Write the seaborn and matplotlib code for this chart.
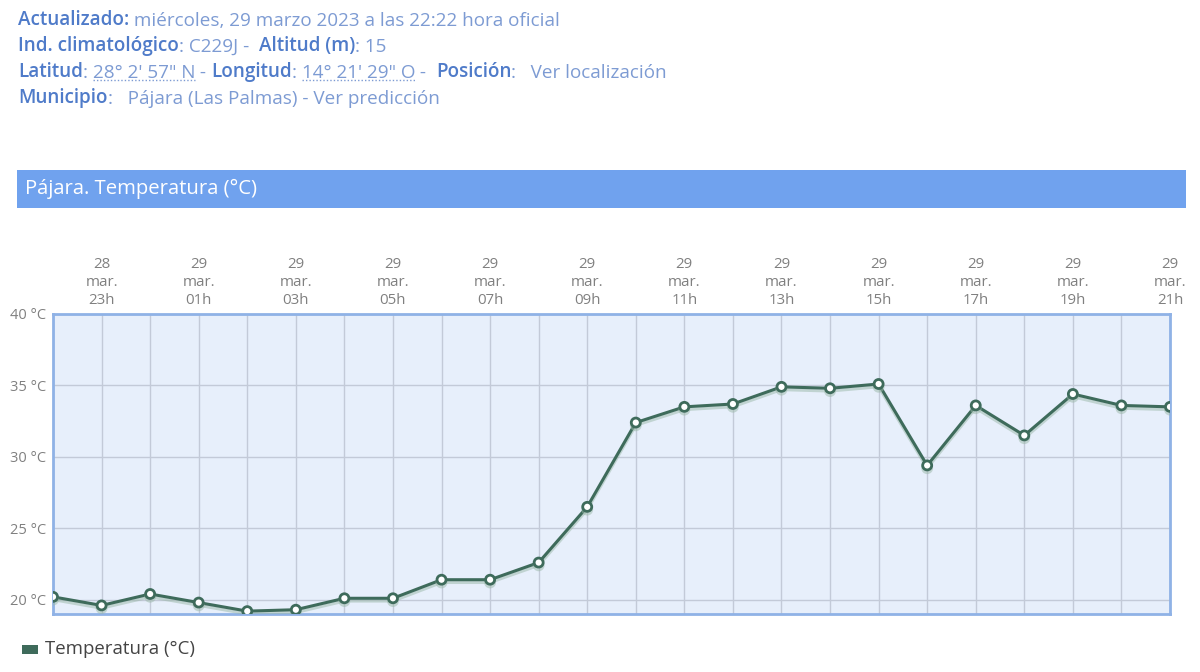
import matplotlib
matplotlib.use("Agg")
import matplotlib.pyplot as plt
import matplotlib.patheffects as pe
from matplotlib.patches import Rectangle
from matplotlib.lines import Line2D
from matplotlib.text import Annotation
import seaborn as sns
import pandas as pd
import numpy as np

# ---- data ----
hours = ["22h", "23h", "00h", "01h", "02h", "03h", "04h", "05h", "06h", "07h", "08h", "09h",
         "10h", "11h", "12h", "13h", "14h", "15h", "16h", "17h", "18h", "19h", "20h", "21h"]
days = ["28", "28", "29", "29", "29", "29", "29", "29", "29", "29", "29", "29",
        "29", "29", "29", "29", "29", "29", "29", "29", "29", "29", "29", "29"]
temps = [20.2, 19.6, 20.4, 19.8, 19.2, 19.3, 20.1, 20.1, 21.4, 21.4, 22.6, 26.5,
         32.4, 33.5, 33.7, 34.9, 34.8, 35.1, 29.4, 33.6, 31.5, 34.4, 33.6, 33.5]
y_ticks = [20, 25, 30, 35, 40]
series_name = "Temperatura (°C)"

df = pd.DataFrame({"idx": np.arange(len(temps)), "temp": temps})

sns.set_theme(style="white")
plt.rcParams["font.family"] = ["Open Sans", "DejaVu Sans"]

W, H = 1200, 672
fig = plt.figure(figsize=(W / 100, H / 100), dpi=100)

def fx(px):
    return px / W

def fy(py):
    return 1 - py / H

LABEL_C = "#4f7bc9"
VALUE_C = "#7d9bd3"
HFS = 13.6

# ---- header lines ----
def write_line(y_px, parts, x_px=18):
    prev = None
    objs = []
    for txt, bold, color in parts:
        w = "semibold" if bold else "normal"
        if prev is None:
            t = fig.text(fx(x_px), fy(y_px), txt, fontsize=HFS, color=color,
                         fontweight=w, va="baseline", ha="left")
        else:
            t = Annotation(txt, xy=(1, 0), xycoords=prev, xytext=(0, 0),
                           textcoords="offset points", fontsize=HFS, color=color,
                           fontweight=w, va="bottom", ha="left", annotation_clip=False)
            fig.add_artist(t)
        prev = t
        objs.append(t)
    return objs

write_line(25, [("Actualizado:", True, LABEL_C),
                (" miércoles, 29 marzo 2023 a las 22:22 hora oficial", False, VALUE_C)])
write_line(51, [("Ind. climatológico", True, LABEL_C), (": C229J -  ", False, VALUE_C),
                ("Altitud (m)", True, LABEL_C), (": 15", False, VALUE_C)])
l3 = write_line(77, [("Latitud", True, LABEL_C), (": ", False, VALUE_C),
                     ("28° 2' 57\" N", False, VALUE_C), (" - ", False, VALUE_C),
                     ("Longitud", True, LABEL_C), (": ", False, VALUE_C),
                     ("14° 21' 29\" O", False, VALUE_C), (" -  ", False, VALUE_C),
                     ("Posición", True, LABEL_C), (":   Ver localización", False, VALUE_C)])
write_line(103, [("Municipio", True, LABEL_C), (":   Pájara (Las Palmas) - Ver predicción", False, VALUE_C)])

# ---- title bar ----
fig.patches.append(Rectangle((fx(17), fy(208)), fx(1186 - 17), (208 - 170) / H,
                             transform=fig.transFigure, facecolor="#70a2ee", edgecolor="none", zorder=0))
fig.text(fx(25), fy(189), "Pájara. Temperatura (°C)", color="white", fontsize=14.6,
         va="center", ha="left")

# ---- chart ----
left, right, top, bottom = 53, 1170, 314, 614
ax = fig.add_axes([fx(left), fy(bottom), fx(right - left), (bottom - top) / H])
ax.set_facecolor("#e7effb")

line_c = "#3e6b5b"
sns.lineplot(data=df, x="idx", y="temp", ax=ax, color=line_c, linewidth=2.2,
             marker="o", markersize=6.5, markerfacecolor="white", markeredgecolor=line_c,
             markeredgewidth=2, legend=False, zorder=5,
             path_effects=[pe.SimpleLineShadow(offset=(0, -2), shadow_color="#9ab8a8", alpha=0.5),
                           pe.Normal()])

ax.set_xlim(0, len(temps) - 1)
ax.set_ylim(19.0, 40)
ax.set_xticks(np.arange(len(temps)))
xlabels = []
for i, (d, h) in enumerate(zip(days, hours)):
    xlabels.append(f"{d}\nmar.\n{h}" if i % 2 == 1 else "")
ax.set_xticklabels(xlabels, fontsize=10.8, color="#808080", linespacing=1.3)
ax.xaxis.tick_top()
ax.tick_params(axis="x", length=0, pad=4)
ax.set_yticks(y_ticks)
ax.set_yticklabels([f"{v} °C" for v in y_ticks], fontsize=10.5, color="#808080")
ax.tick_params(axis="y", length=0, pad=5)
ax.grid(True, color="#c3cad8", linewidth=1)
ax.set_axisbelow(True)
ax.set_xlabel("")
ax.set_ylabel("")
for s in ax.spines.values():
    s.set_color("#8fb2e6")
    s.set_linewidth(2)

# ---- legend ----
fig.patches.append(Rectangle((fx(22), fy(654)), fx(16), 9 / H, transform=fig.transFigure,
                             facecolor=line_c, edgecolor="none"))
fig.text(fx(45), fy(649), series_name, fontsize=13.4, color="#444444", va="center", ha="left")

# ---- dotted underlines for coordinates ----
fig.canvas.draw()
renderer = fig.canvas.get_renderer()
for t in (l3[2], l3[6]):
    bb = t.get_window_extent(renderer)
    y = bb.y0 + 2
    fig.lines.append(Line2D([bb.x0 / W, bb.x1 / W], [y / H, y / H], transform=fig.transFigure,
                            color=VALUE_C, linewidth=1, linestyle=(0, (1, 1.5))))

fig.savefig("out.png", dpi=100)
